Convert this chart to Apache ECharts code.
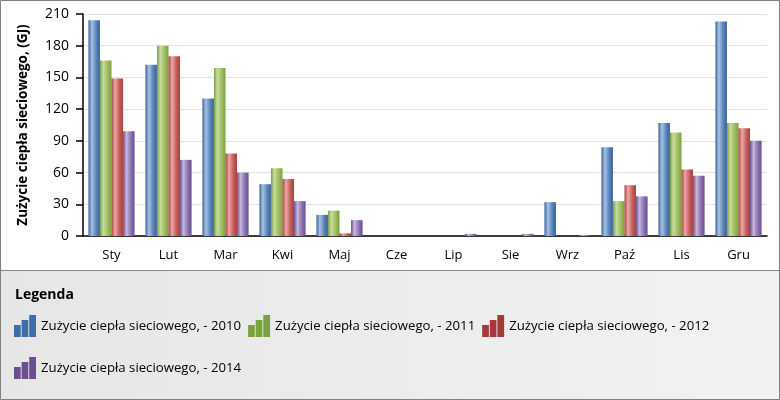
<!DOCTYPE html>
<html><head><meta charset="utf-8">
<script src="https://cdn.jsdelivr.net/npm/echarts@6/dist/echarts.min.js"></script>
<style>html,body{margin:0;padding:0;background:#fff}#c{width:780px;height:400px}</style>
</head><body><div id="c"></div>
<script>
const categories = ['Sty','Lut','Mar','Kwi','Maj','Cze','Lip','Sie','Wrz','Paź','Lis','Gru'];
const seriesNames = ['Zużycie ciepła sieciowego, - 2010','Zużycie ciepła sieciowego, - 2011','Zużycie ciepła sieciowego, - 2012','Zużycie ciepła sieciowego, - 2014'];
const v2010 = [204,162,130,49,20,0,0,0,32,84,107,203];
const v2011 = [166,180,159,64,24,0,0,0,0,33,98,107];
const v2012 = [149,170,78,54,2.5,0,0,0,0,48,63,102];
const v2014 = [99,72,60,33,15,0,2,2,1,37.5,57,90];
const yTicks = [0,30,60,90,120,150,180,210];

const FONT = 'Open Sans';
const baseColors = ['#3e6ea8','#7aa13c','#a53838','#6b4f92'];
const grads = [
  ['#3a659c','#a8c1e0','#5680b6','#3a659c'],
  ['#7d9f42','#c8dca0','#9bbb59','#7d9f42'],
  ['#a8413d','#eaa9a6','#c45a56','#a8413d'],
  ['#6a4f90','#c6b6dc','#8a70ad','#6a4f90']
];
function grad(i){
  const g = grads[i];
  return new echarts.graphic.LinearGradient(0,0,1,0,[
    {offset:0,color:g[0]},{offset:0.3,color:g[1]},{offset:0.7,color:g[2]},{offset:1,color:g[3]}]);
}
const icon = 'path://M0,10L6.7,10L6.7,22L0,22Z M7.6,5L14.3,5L14.3,22L7.6,22Z M15.2,0L22,0L22,22L15.2,22Z';
const values = [v2010,v2011,v2012,v2014];
const chart = echarts.init(document.getElementById('c'));
const legText = {fontSize:13.2,color:'#000',fontFamily:FONT};
chart.setOption({
  animation:false,
  textStyle:{fontFamily:FONT},
  graphic:[
    {type:'rect',shape:{x:0,y:0,width:780,height:270},style:{fill:'#fff'},z:-10},
    {type:'rect',shape:{x:0,y:270,width:780,height:130},style:{fill:new echarts.graphic.LinearGradient(0,0,1,0,[{offset:0,color:'#e6e6e6'},{offset:1,color:'#f2f2f2'}])},z:-10},
    {type:'line',shape:{x1:0,y1:270.5,x2:780,y2:270.5},style:{stroke:'#8a8a8a',lineWidth:1},z:-5},
    {type:'rect',shape:{x:0.5,y:0.5,width:779,height:399},style:{fill:'none',stroke:'#808080',lineWidth:1},z:100},
    {type:'text',left:15,top:288,style:{text:'Legenda',font:'bold 14px "'+FONT+'"',fill:'#000'}}
  ],
  grid:{left:83,right:13,top:14,bottom:164},
  legend:[
    {data:seriesNames.slice(0,3).map((n,i)=>({name:n,icon:icon,itemStyle:{color:baseColors[i],borderWidth:0}})),
     left:14,top:315,padding:0,itemWidth:22,itemHeight:22,itemGap:7,textStyle:legText},
    {data:[{name:seriesNames[3],icon:icon,itemStyle:{color:baseColors[3],borderWidth:0}}],
     left:14,top:357,padding:0,itemWidth:22,itemHeight:22,textStyle:legText}
  ],
  xAxis:{type:'category',data:categories,
    axisLine:{lineStyle:{color:'#000',width:1.5}},
    axisTick:{alignWithLabel:true,length:8,lineStyle:{color:'#000',width:1.5}},
    axisLabel:{color:'#000',fontSize:13,margin:13,fontFamily:FONT}},
  yAxis:{type:'value',min:0,max:210,interval:30,
    name:'Zużycie ciepła sieciowego, (GJ)',nameLocation:'middle',nameGap:53,
    nameTextStyle:{fontWeight:'bold',fontSize:13.5,color:'#000',fontFamily:FONT},
    axisLine:{show:true,lineStyle:{color:'#000',width:1.5}},
    axisTick:{show:true,length:7,lineStyle:{color:'#000',width:1.5}},
    axisLabel:{color:'#000',fontSize:14,margin:14,fontFamily:FONT,
      formatter:v=>yTicks.includes(v)?String(v):''},
    splitLine:{lineStyle:{color:'#e2e2e2'}}},
  series: values.map((d,i)=>({
    name:seriesNames[i],type:'bar',data:d,barGap:'0%',barCategoryGap:'19%',
    itemStyle:{color:grad(i)}
  }))
});
</script></body></html>
